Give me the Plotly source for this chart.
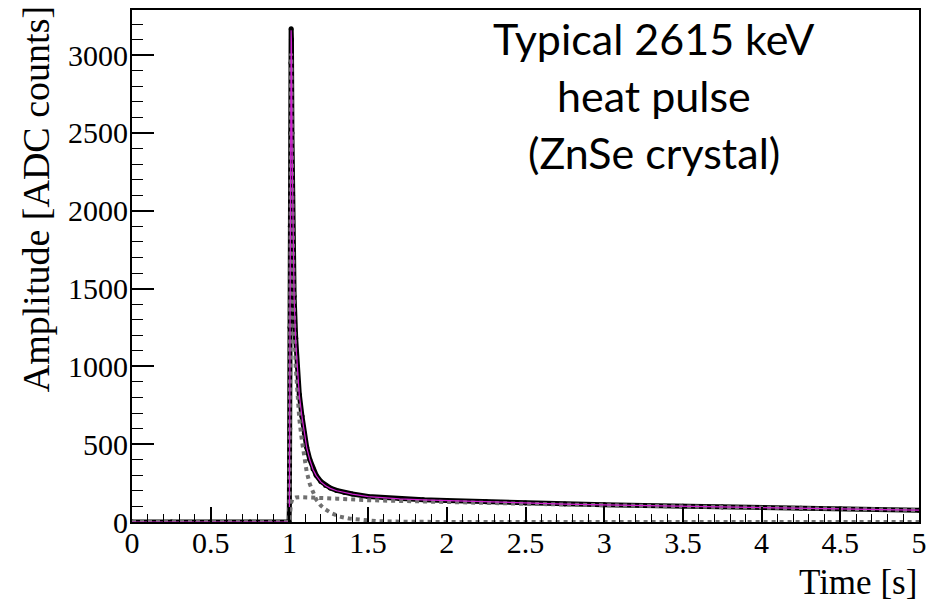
import plotly.graph_objects as go

# ---- data ----
t_data = [0.0, 0.25, 0.5, 0.75, 0.998, 1.000, 1.002, 1.004, 1.006, 1.008, 1.010, 1.011,
          1.013, 1.016, 1.020, 1.025, 1.030, 1.040, 1.050, 1.063, 1.080, 1.095, 1.110,
          1.130, 1.150, 1.170, 1.200, 1.230, 1.260, 1.300, 1.350, 1.400, 1.500, 1.600,
          1.700, 1.850, 2.000, 2.250, 2.500, 2.750, 3.000, 3.250, 3.500, 3.750, 4.000,
          4.250, 4.500, 4.750, 5.000]
amp_data = [0, 0, 0, 0, 0, 120, 600, 1250, 1900, 2500, 2950, 3170,
            3100, 2500, 2100, 1700, 1450, 1180, 1000, 820, 680, 570, 480,
            400, 340, 300, 260, 235, 218, 203, 190, 180, 164, 156,
            150, 143, 138, 130, 122, 116, 111, 106, 101, 97, 93,
            89, 85, 80, 76]

t_fit = [0.0, 0.5, 0.998, 1.000, 1.003, 1.006, 1.009, 1.011, 1.013, 1.016, 1.020,
         1.025, 1.030, 1.040, 1.050, 1.063, 1.080, 1.095, 1.110, 1.130, 1.150, 1.170,
         1.200, 1.230, 1.260, 1.300, 1.350, 1.400, 1.500, 1.600, 1.700, 1.850, 2.000,
         2.250, 2.500, 2.750, 3.000, 3.250, 3.500, 3.750, 4.000, 4.250, 4.500, 4.750, 5.000]
amp_fit = [0, 0, 0, 0, 960, 1900, 2740, 3160, 3080, 2490, 2090, 1690, 1440, 1160, 995,
           815, 675, 565, 478, 398, 338, 298, 258, 233, 216, 201, 189, 179, 163, 155,
           149, 142, 137, 129, 121, 115, 110, 105, 100, 96, 92, 88, 84, 80, 76]

t_fast = [0.0, 0.5, 0.998, 1.000, 1.003, 1.006, 1.009, 1.011, 1.013, 1.016, 1.020,
          1.025, 1.030, 1.040, 1.050, 1.063, 1.080, 1.095, 1.110, 1.130, 1.150, 1.170,
          1.200, 1.230, 1.270, 1.320, 1.380, 1.450, 1.550, 1.700, 2.000, 3.000, 4.000, 5.000]
amp_fast = [0, 0, 0, 0, 900, 1800, 2600, 3010, 2920, 2330, 1930, 1530, 1280, 1000, 840,
            660, 520, 410, 322, 243, 185, 145, 105, 80, 55, 35, 22, 14, 6, 2, 0, 0, 0, 0]

t_slow = [0.0, 0.998, 1.000, 1.005, 1.010, 1.020, 1.040, 1.070, 1.100, 1.200, 1.300,
          1.500, 1.750, 2.000, 2.500, 3.000, 3.500, 4.000, 4.500, 5.000]
amp_slow = [0, 0, 0, 60, 120, 150, 158, 160, 158, 155, 150, 140, 133, 128, 117, 108,
            99, 91, 84, 77]

x_title = "Time [s]"
y_title = "Amplitude [ADC counts]"
label_lines = ["Typical 2615 keV", "heat pulse", "(ZnSe crystal)"]

SERIF = "Liberation Serif, Times New Roman, serif"
SANS = "Lato, Open Sans, sans-serif"

fig = go.Figure()
fig.add_trace(go.Scatter(x=t_data, y=amp_data, mode="lines+markers",
                         line=dict(color="black", width=5),
                         marker=dict(color="black", size=5), showlegend=False))
fig.add_trace(go.Scatter(x=t_fast, y=amp_fast, mode="lines",
                         line=dict(color="#707070", width=4, dash="4px,4px"),
                         showlegend=False))
fig.add_trace(go.Scatter(x=t_slow, y=amp_slow, mode="lines",
                         line=dict(color="#707070", width=4, dash="4px,4px"),
                         showlegend=False))
fig.add_trace(go.Scatter(x=t_fit, y=amp_fit, mode="lines",
                         line=dict(color="#d020d0", width=1.2), showlegend=False))

axis_common = dict(ticks="inside", tickcolor="black", tickwidth=1.5,
                   showline=True, linewidth=2, linecolor="black", mirror=True,
                   showgrid=False, zeroline=False,
                   tickfont=dict(family=SERIF, size=30, color="black"))
fig.update_xaxes(range=[0, 5], tick0=0, dtick=0.5, ticklen=15, ticklabelstandoff=-7,
                 minor=dict(ticks="inside", ticklen=8, dtick=0.1, tickcolor="black",
                            tickwidth=1, showgrid=False),
                 **axis_common)
fig.update_yaxes(range=[0, 3290], tick0=0, dtick=500, ticklen=22, ticklabelstandoff=-4,
                 minor=dict(ticks="inside", ticklen=11, dtick=100, tickcolor="black",
                            tickwidth=1, showgrid=False),
                 **axis_common)

annotations = []
for txt, yp in zip(label_lines, [0.945, 0.833, 0.722]):
    annotations.append(dict(text=txt, x=0.663, y=yp, xref="paper", yref="paper",
                            xanchor="center", yanchor="middle", showarrow=False,
                            font=dict(family=SANS, size=43, color="black")))
annotations.append(dict(text=x_title, x=1.0, y=-0.119, xref="paper", yref="paper",
                        xanchor="right", yanchor="middle", showarrow=False,
                        font=dict(family=SERIF, size=35, color="black")))
annotations.append(dict(text=y_title, x=-0.1228, y=1.012, xref="paper", yref="paper",
                        xanchor="center", yanchor="top", textangle=-90, showarrow=False,
                        font=dict(family=SERIF, size=38, color="black")))

fig.update_layout(width=935, height=602, margin=dict(l=132, r=13, t=8, b=80),
                  paper_bgcolor="white", plot_bgcolor="white",
                  annotations=annotations, showlegend=False)

fig.write_html("out.html")
